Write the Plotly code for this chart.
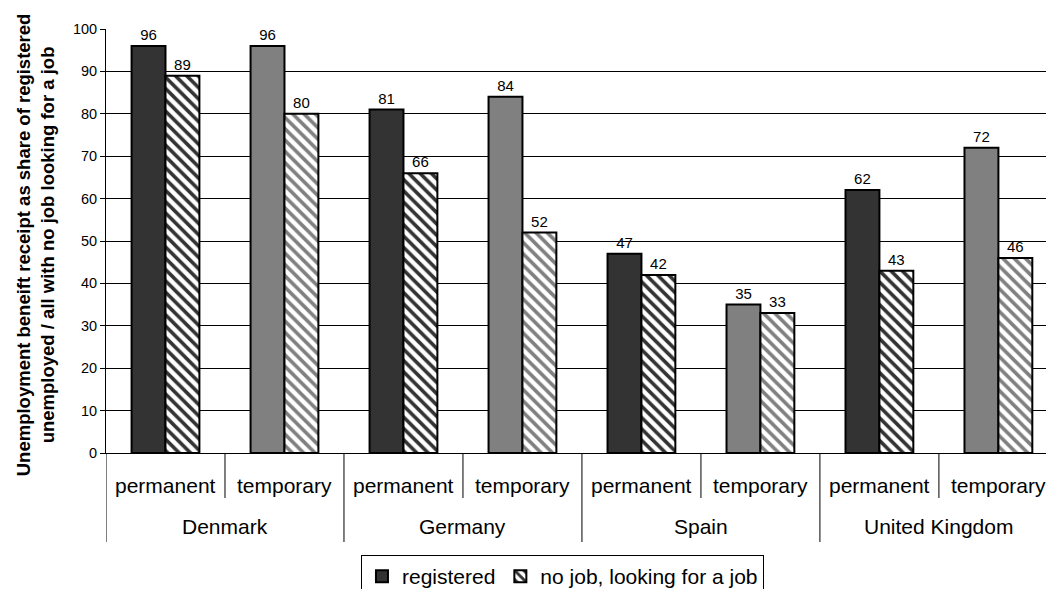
import plotly.graph_objects as go

# Data: benefit receipt by country and contract type
countries = ["Denmark", "Germany", "Spain", "United Kingdom"]
contracts = ["permanent", "temporary"]
registered = [96, 96, 81, 84, 47, 35, 62, 72]
no_job_looking = [89, 80, 66, 52, 42, 33, 43, 46]
y_ticks = [0, 10, 20, 30, 40, 50, 60, 70, 80, 90, 100]

# one slot per country x contract combination
slot_labels = [c for _ in countries for c in contracts]
xs = list(range(len(slot_labels)))

DARK = "#333333"
GRAY = "#808080"
fills = [DARK if c == "permanent" else GRAY for c in slot_labels]
FONT = "Liberation Sans, Arial, sans-serif"

fig = go.Figure()
fig.add_trace(go.Bar(
    x=xs, y=registered, name="registered",
    marker=dict(color=fills, line=dict(color="black", width=2)),
    text=registered, textposition="outside", cliponaxis=False,
    textfont=dict(size=15, color="black", family=FONT),
))
fig.add_trace(go.Bar(
    x=xs, y=no_job_looking, name="no job, looking for a job",
    marker=dict(
        color="white",
        line=dict(color="black", width=2),
        pattern=dict(shape="\\", fgcolor=fills, bgcolor="white",
                     size=8, solidity=0.45, fillmode="replace"),
    ),
    text=no_job_looking, textposition="outside", cliponaxis=False,
    textfont=dict(size=15, color="black", family=FONT),
))

# plot-area height in pixels (used to place category labels & dividers)
H_PLOT = 424.0
def py(px_below_axis):
    return -px_below_axis / H_PLOT

shapes = []
annotations = []
# contract-type labels and short dividers
for i, lab in enumerate(slot_labels):
    annotations.append(dict(x=i, y=py(32), xref="x", yref="paper", text=lab,
                            showarrow=False, xanchor="center", yanchor="middle",
                            font=dict(size=21, color="black", family=FONT)))
    if i % 2 == 1:
        shapes.append(dict(type="line", xref="x", yref="paper",
                           x0=i - 0.5, x1=i - 0.5, y0=0, y1=py(45),
                           line=dict(color="black", width=1)))
# country labels and long dividers
for k, c in enumerate(countries):
    annotations.append(dict(x=2 * k + 0.5, y=py(73), xref="x", yref="paper", text=c,
                            showarrow=False, xanchor="center", yanchor="middle",
                            font=dict(size=21, color="black", family=FONT)))
    shapes.append(dict(type="line", xref="x", yref="paper",
                       x0=2 * k - 0.5, x1=2 * k - 0.5, y0=0, y1=py(89),
                       line=dict(color="black", width=1)))

# rotated two-line bold y-axis title
annotations.append(dict(
    x=-71 / 940, y=0.49, xref="paper", yref="paper",
    text="<b>Unemployment beneift receipt as share of registered</b><br>"
         "<b>unemployed / all with no job looking for a job</b>",
    textangle=-90, showarrow=False, xanchor="center", yanchor="middle",
    font=dict(size=18.5, color="black", family=FONT)))

fig.update_layout(
    width=1046, height=589,
    margin=dict(l=106, r=0, t=29, b=136, autoexpand=False),
    paper_bgcolor="white", plot_bgcolor="white",
    barmode="group", bargap=0.43, bargroupgap=0,
    font=dict(family=FONT, color="black"),
    xaxis=dict(range=[-0.5, 7.4], showticklabels=False, ticks="",
               showgrid=False, zeroline=False,
               showline=True, linecolor="black", linewidth=1),
    yaxis=dict(range=[0, 100], tickvals=y_ticks, ticks="outside", ticklen=5,
               tickcolor="black", showline=True, linecolor="black", linewidth=1,
               showgrid=True, gridcolor="black", gridwidth=1, zeroline=False,
               tickfont=dict(size=14.5, color="black", family=FONT)),
    legend=dict(orientation="h", x=0.4856, xanchor="center", y=-0.2406, yanchor="top",
                bordercolor="black", borderwidth=1, bgcolor="white",
                font=dict(size=21, color="black", family=FONT),
                itemwidth=30, traceorder="normal"),
    shapes=shapes, annotations=annotations,
)

fig.write_html("out.html")
